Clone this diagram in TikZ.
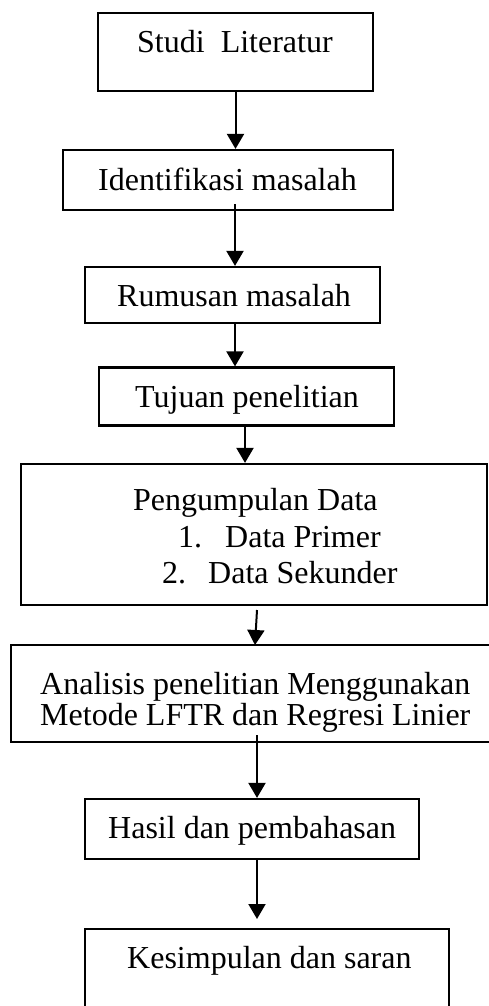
\documentclass[tikz,border=0pt]{standalone}
\usepackage{fontspec}
\setmainfont{Liberation Serif}
\usetikzlibrary{arrows.meta}
\begin{document}
\begin{tikzpicture}[x=1pt,y=-1pt,
  box/.style={draw=black,line width=2.2pt,inner sep=0pt,rectangle},
  lbl/.style={inner sep=0pt,anchor=base west,font=\fontsize{32}{36}\selectfont},
  arr/.style={line width=2pt,-{Triangle[length=15pt,width=17pt]}}]
\useasboundingbox (0,0) rectangle (488,1006);
% boxes (corner-defined)
\node[box,minimum width=275pt,minimum height=78pt] (b1) at (235.5,52) {};
\node[box,minimum width=330pt,minimum height=60pt] (b2) at (228,180) {};
\node[box,minimum width=295pt,minimum height=56pt] (b3) at (232.5,295) {};
\node[box,minimum width=295pt,minimum height=58pt] (b4) at (246.5,396.5) {};
\node[box,minimum width=466pt,minimum height=141pt] (b5) at (254,534.5) {};
\node[box,minimum width=482pt,minimum height=97pt] (b6) at (252,693.5) {};
\node[box,minimum width=334pt,minimum height=60pt] (b7) at (252,829) {};
\node[box,minimum width=364pt,minimum height=100pt] (b8) at (267,979) {};
% texts
\node[lbl] (t1) at (137,53) {Studi\ \ Literatur};
\node[lbl] (t2) at (98,190) {Identifikasi masalah};
\node[lbl] (t3) at (117,306) {Rumusan masalah};
\node[lbl] (t4) at (135,407) {Tujuan penelitian};
\node[lbl] (t5a) at (133,510) {Pengumpulan Data};
\node[lbl] (t5b) at (178,547) {1.};
\node[lbl] (t5c) at (225,547) {Data Primer};
\node[lbl] (t5d) at (162,583) {2.};
\node[lbl] (t5e) at (208,583) {Data Sekunder};
\node[lbl] (t6a) at (40,694) {Analisis penelitian Menggunakan};
\node[lbl] (t6b) at (40,725) {Metode LFTR dan Regresi Linier};
\node[lbl] (t7) at (108,838) {Hasil dan pembahasan};
\node[lbl] (t8) at (127,968) {Kesimpulan dan saran};
% arrow anchor coordinates
\coordinate (a2s) at (235,204);
\coordinate (a5s) at (257,610);
\coordinate (a5e) at (255,645);
\coordinate (a6s) at (257,735);
\coordinate (a7e) at (257,919);
\draw[arr] (b1.south) -- (b1.south |- b2.north);
\draw[arr] (a2s) -- (a2s |- b3.north);
\draw[arr] (a2s |- b3.south) -- (a2s |- b4.north);
\draw[arr] ([xshift=-1.5pt]b4.south) -- ([xshift=-1.5pt]b4.south |- b5.north);
\draw[arr] (a5s) -- (a5e);
\draw[arr] (a6s) -- (a6s |- b7.north);
\draw[arr] (a6s |- b7.south) -- (a7e);
\end{tikzpicture}
\end{document}
